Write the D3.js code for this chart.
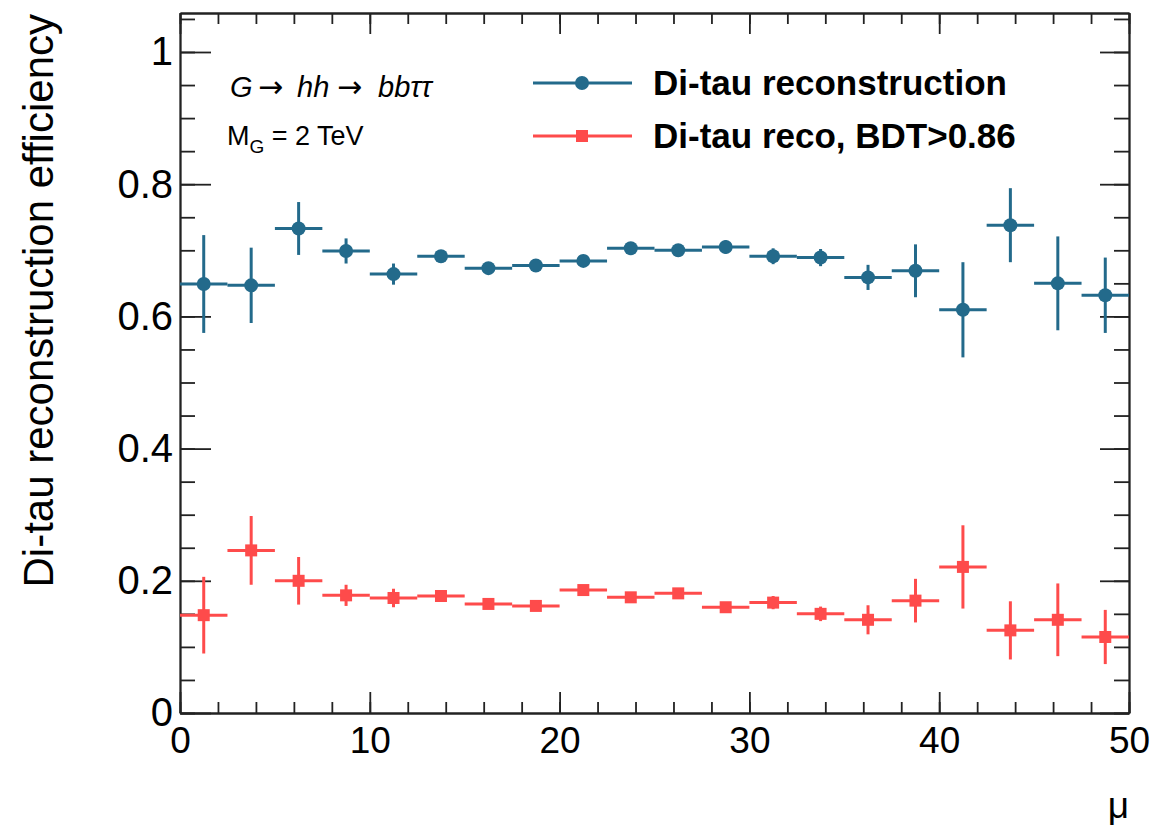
<!DOCTYPE html>
<html>
<head>
<meta charset="utf-8">
<script src="https://cdn.jsdelivr.net/npm/d3@7"></script>
<style>
  body { margin: 0; background: #fff; }
  svg { display: block; }
</style>
</head>
<body>
<div id="chart"></div>
<script>
// bin centres in mu (bins are 2.5 wide)
const muCenters = [1.25, 3.75, 6.25, 8.75, 11.25, 13.75, 16.25, 18.75, 21.25, 23.75,
                   26.25, 28.75, 31.25, 33.75, 36.25, 38.75, 41.25, 43.75, 46.25, 48.75];
const binHalfWidth = 1.25;

// Di-tau reconstruction
const recoEff = [0.649, 0.647, 0.733, 0.699, 0.664, 0.691, 0.673, 0.677, 0.684, 0.703,
                 0.700, 0.705, 0.691, 0.689, 0.659, 0.669, 0.610, 0.738, 0.650, 0.632];
const recoErr = [0.074, 0.057, 0.040, 0.019, 0.016, 0.007, 0.007, 0.007, 0.008, 0.008,
                 0.008, 0.010, 0.012, 0.013, 0.019, 0.040, 0.072, 0.056, 0.071, 0.057];

// Di-tau reco, BDT>0.86
const bdtEff = [0.148, 0.246, 0.200, 0.178, 0.174, 0.177, 0.165, 0.162, 0.186, 0.175,
                0.181, 0.160, 0.167, 0.150, 0.141, 0.170, 0.221, 0.125, 0.141, 0.115];
const bdtErr = [0.058, 0.052, 0.036, 0.016, 0.014, 0.007, 0.007, 0.007, 0.007, 0.007,
                0.007, 0.007, 0.010, 0.011, 0.022, 0.033, 0.063, 0.044, 0.055, 0.041];

const xTicks = [0, 10, 20, 30, 40, 50];
const yTicks = [0, 0.2, 0.4, 0.6, 0.8, 1];

const width = 1154;
const height = 831;
const margin = {top: 13, right: 25, bottom: 118, left: 180};

const blue = "#236a8b";
const red = "#fe4b4b";
const font = "'Liberation Sans', Arial, Helvetica, sans-serif";

const svg = d3.select("#chart")
    .append("svg")
    .attr("width", width)
    .attr("height", height)
    .style("font-family", font);

svg.append("rect")
    .attr("width", width)
    .attr("height", height)
    .attr("fill", "white");

const xScale = d3.scaleLinear()
    .domain([0, 50])
    .range([margin.left, width - margin.right]);

const yScale = d3.scaleLinear()
    .domain([0, 1.059])
    .range([height - margin.bottom, margin.top]);

const x0 = xScale.range()[0], x1 = xScale.range()[1];
const y0 = yScale.range()[0], y1 = yScale.range()[1];

const xMinor = d3.range(0, 50.001, 2);
const yMinor = d3.range(0, 1.0501, 0.05);

// ROOT style axes: ticks pointing inwards on all four sides
const styleAxis = g => {
    g.select(".domain").attr("stroke", "#222").attr("stroke-width", 1.8);
    g.selectAll(".tick line").attr("stroke", "#222").attr("stroke-width", 1.8);
    g.selectAll(".tick text").attr("fill", "black");
};

// bottom
svg.append("g")
    .attr("transform", `translate(0, ${y0})`)
    .call(d3.axisBottom(xScale).tickValues(xMinor).tickSize(-11).tickSizeOuter(0).tickFormat(""))
    .call(styleAxis);
svg.append("g")
    .attr("class", "x-axis")
    .attr("transform", `translate(0, ${y0})`)
    .call(d3.axisBottom(xScale).tickValues(xTicks).tickSize(-21).tickSizeOuter(0).tickPadding(14).tickFormat(d => d))
    .call(styleAxis)
    .call(g => g.selectAll("text").attr("font-size", 37).attr("font-family", font));

// top
svg.append("g")
    .attr("transform", `translate(0, ${y1})`)
    .call(d3.axisTop(xScale).tickValues(xMinor).tickSize(-11).tickSizeOuter(0).tickFormat(""))
    .call(styleAxis);
svg.append("g")
    .attr("transform", `translate(0, ${y1})`)
    .call(d3.axisTop(xScale).tickValues(xTicks).tickSize(-21).tickSizeOuter(0).tickFormat(""))
    .call(styleAxis);

// left
svg.append("g")
    .attr("transform", `translate(${x0}, 0)`)
    .call(d3.axisLeft(yScale).tickValues(yMinor).tickSize(-15).tickSizeOuter(0).tickFormat(""))
    .call(styleAxis);
svg.append("g")
    .attr("class", "y-axis")
    .attr("transform", `translate(${x0}, 0)`)
    .call(d3.axisLeft(yScale).tickValues(yTicks).tickSize(-31).tickSizeOuter(0).tickPadding(7).tickFormat(d => String(d)))
    .call(styleAxis)
    .call(g => g.selectAll("text").attr("font-size", 40).attr("font-family", font));

// right
svg.append("g")
    .attr("transform", `translate(${x1}, 0)`)
    .call(d3.axisRight(yScale).tickValues(yMinor).tickSize(-15).tickSizeOuter(0).tickFormat(""))
    .call(styleAxis);
svg.append("g")
    .attr("transform", `translate(${x1}, 0)`)
    .call(d3.axisRight(yScale).tickValues(yTicks).tickSize(-29).tickSizeOuter(0).tickFormat(""))
    .call(styleAxis);

// axis titles
svg.append("text")
    .text("Di-tau reconstruction efficiency")
    .attr("transform", `translate(53, ${y1 + 1}) rotate(-90)`)
    .attr("text-anchor", "end")
    .attr("font-size", 42)
    .attr("fill", "black");

svg.append("text")
    .text("μ")
    .attr("x", x1)
    .attr("y", 818)
    .attr("text-anchor", "end")
    .attr("font-size", 37)
    .attr("fill", "black");

// data points with error bars
const drawSeries = (values, errors, color, marker) => {
    const pts = muCenters.map((c, i) => ({c: c, v: values[i], e: errors[i]}));
    const g = svg.append("g");

    g.selectAll(".hbar")
        .data(pts)
        .join("line")
        .attr("x1", d => xScale(d.c - binHalfWidth))
        .attr("x2", d => xScale(d.c + binHalfWidth))
        .attr("y1", d => yScale(d.v))
        .attr("y2", d => yScale(d.v))
        .attr("stroke", color)
        .attr("stroke-width", 3);

    g.selectAll(".vbar")
        .data(pts)
        .join("line")
        .attr("x1", d => xScale(d.c))
        .attr("x2", d => xScale(d.c))
        .attr("y1", d => yScale(d.v - d.e))
        .attr("y2", d => yScale(d.v + d.e))
        .attr("stroke", color)
        .attr("stroke-width", 3);

    if (marker === "circle") {
        g.selectAll("circle")
            .data(pts)
            .join("circle")
            .attr("cx", d => xScale(d.c))
            .attr("cy", d => yScale(d.v))
            .attr("r", 7)
            .attr("fill", color);
    } else {
        g.selectAll("rect")
            .data(pts)
            .join("rect")
            .attr("x", d => xScale(d.c) - 6)
            .attr("y", d => yScale(d.v) - 6)
            .attr("width", 12)
            .attr("height", 12)
            .attr("fill", color);
    }
};

drawSeries(recoEff, recoErr, blue, "circle");
drawSeries(bdtEff, bdtErr, red, "square");

// legend
const legend = [
    {label: "Di-tau reconstruction", color: blue, marker: "circle", y: 83},
    {label: "Di-tau reco, BDT>0.86", color: red, marker: "square", y: 136}
];

legend.forEach(item => {
    svg.append("line")
        .attr("x1", 533).attr("x2", 632)
        .attr("y1", item.y).attr("y2", item.y)
        .attr("stroke", item.color)
        .attr("stroke-width", 3);
    if (item.marker === "circle") {
        svg.append("circle")
            .attr("cx", 582).attr("cy", item.y)
            .attr("r", 7)
            .attr("fill", item.color);
    } else {
        svg.append("rect")
            .attr("x", 576).attr("y", item.y - 6)
            .attr("width", 12).attr("height", 12)
            .attr("fill", item.color);
    }
    svg.append("text")
        .text(item.label)
        .attr("x", 653)
        .attr("y", item.y + 12)
        .attr("font-size", 35)
        .attr("font-weight", "bold")
        .attr("fill", "black");
});

// process annotation, pieces placed like TLatex spacing
const arrowFont = "'DejaVu Sans', sans-serif";
const procParts = [
    {t: "G", x: 230, italic: true},
    {t: "→", x: 258, italic: false},
    {t: "hh", x: 297, italic: true},
    {t: "→", x: 337, italic: false},
    {t: "bbττ", x: 378, italic: true}
];
const proc = svg.append("text")
    .attr("y", 97)
    .attr("font-size", 29)
    .attr("fill", "black");
procParts.forEach(p => {
    const ts = proc.append("tspan").attr("x", p.x).text(p.t);
    if (p.italic) ts.attr("font-style", "italic");
    else ts.attr("font-family", arrowFont).attr("font-size", 30);
});

const mass = svg.append("text")
    .attr("x", 227)
    .attr("y", 145)
    .attr("font-size", 27)
    .attr("fill", "black");
mass.append("tspan").text("M");
mass.append("tspan").attr("font-size", 19).attr("dy", 8).text("G");
mass.append("tspan").attr("dy", -8).text(" = 2 TeV");
</script>
</body>
</html>
